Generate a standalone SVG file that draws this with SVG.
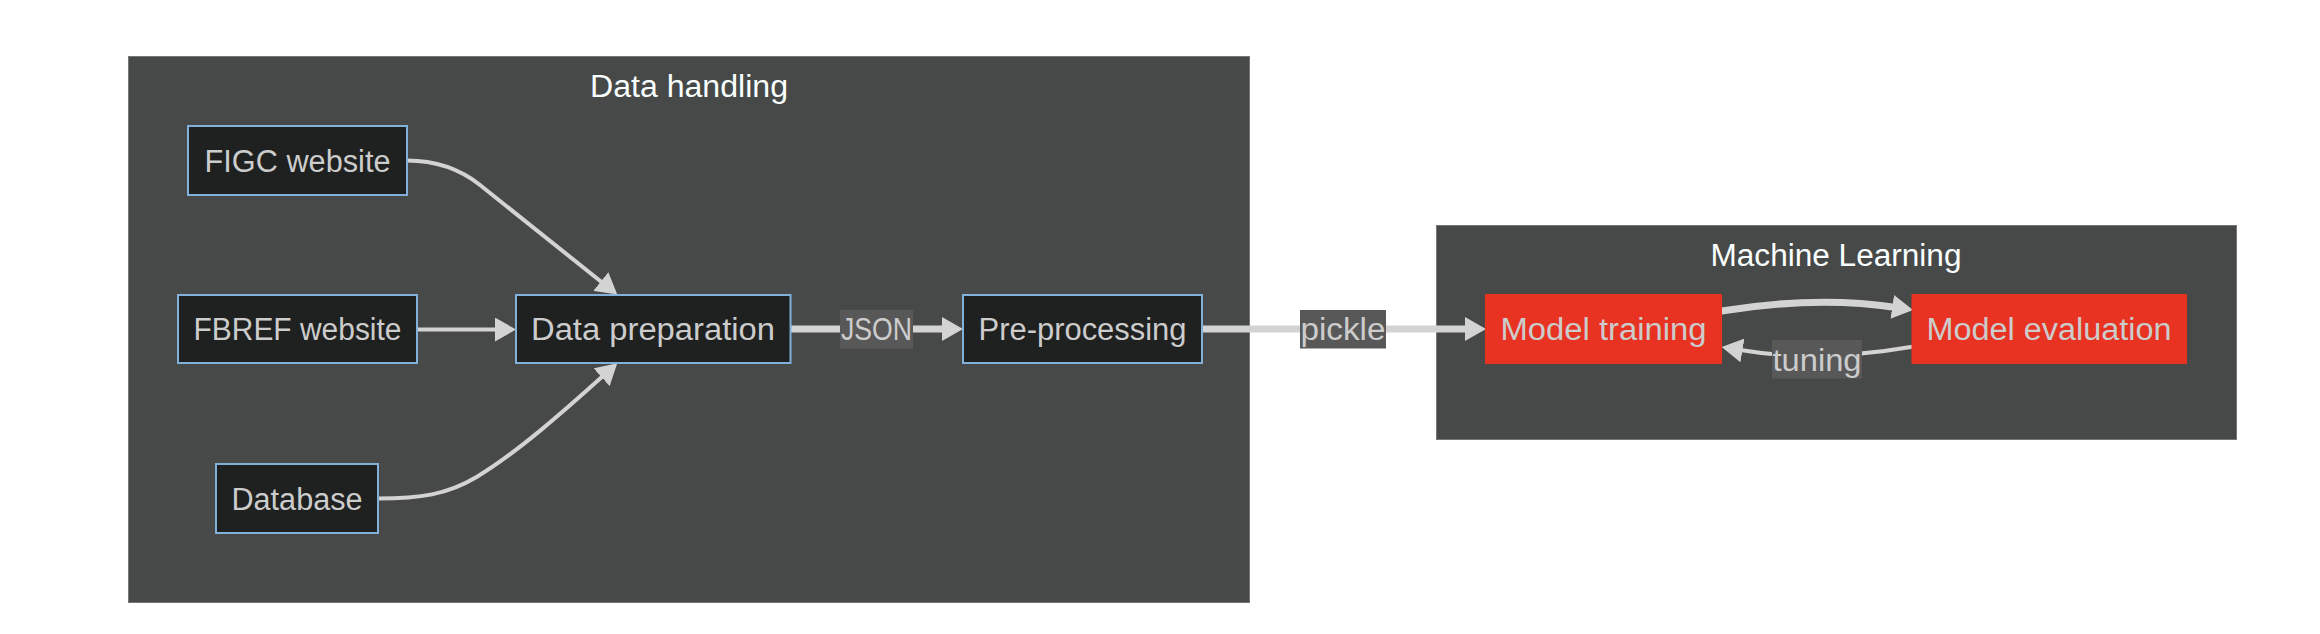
<svg xmlns="http://www.w3.org/2000/svg" width="2320" height="634" viewBox="0 0 2320 634">
<style>
  .cluster rect { fill: #474949; stroke: rgba(255,255,255,0.25); stroke-width: 2; }
  .ctitle { fill: #F9FFFE; font-family: "Liberation Sans", Arial, sans-serif; font-size: 31px; text-anchor: middle; }
  .node rect { fill: #1f2020; stroke: #81B1DB; stroke-width: 2; }
  .node.red rect { fill: #E83322; stroke: #E83322; }
  .node text, .elabel text { fill: #cccccc; font-family: "Liberation Sans", Arial, sans-serif; font-size: 31px; text-anchor: middle; }
  .edge { fill: none; stroke: #d3d3d3; stroke-width: 4; marker-end: url(#arrow); }
  .edge.thick { stroke-width: 7; }
  .elabel rect { fill: #585858; }
</style>
<defs>
  <marker id="arrow" markerUnits="userSpaceOnUse" viewBox="0 0 21 24" markerWidth="21" markerHeight="24" refX="4" refY="12" orient="auto">
    <path d="M0,0 L21,12 L0,24 z" fill="#d3d3d3"/>
  </marker>
</defs>
<rect width="2320" height="634" fill="#ffffff"/>

<g id="cluster-data-handling" class="cluster">
  <rect x="128" y="56" width="1122" height="547"/>
  <text class="ctitle" x="689" y="97" textLength="198" lengthAdjust="spacingAndGlyphs">Data handling</text>
</g>
<g id="cluster-machine-learning" class="cluster">
  <rect x="1436" y="225" width="801" height="215"/>
  <text class="ctitle" x="1836" y="266" textLength="251" lengthAdjust="spacingAndGlyphs">Machine Learning</text>
</g>

<g id="connectors">
  <path id="e-figc-prep" class="edge" d="M407,160.5 Q449.3,160.5 480,185 L604,284"/>
  <path id="e-fbref-prep" class="edge" d="M417,329.5 L499,329.5"/>
  <path id="e-db-prep" class="edge" d="M378,498.5 C420,498.5 447,494.7 477,476.7 C517,452.7 564.6,410.6 604.6,374.6"/>
  <path id="e-prep-pre" class="edge thick" d="M790.5,329 L946,329"/>
  <path id="e-pre-train" class="edge thick" d="M1202,329 L1469,329"/>
  <path id="e-train-eval" class="edge thick" d="M1721.5,311 Q1817,295.5 1896.2,307.5"/>
  <path id="e-eval-train" class="edge" d="M1912.5,346.7 Q1817,363 1738.5,349.8"/>
  <g class="elabel" id="lbl-json">
    <rect x="840" y="310" width="73" height="38.5"/>
    <text x="876.5" y="340" textLength="71" lengthAdjust="spacingAndGlyphs">JSON</text>
  </g>
  <g class="elabel" id="lbl-pickle">
    <rect x="1300" y="310" width="86" height="38.5"/>
    <text x="1343" y="340" textLength="85" lengthAdjust="spacingAndGlyphs">pickle</text>
  </g>
  <g class="elabel" id="lbl-tuning">
    <rect x="1772" y="340" width="90" height="38.5"/>
    <text x="1817" y="370.5" textLength="89" lengthAdjust="spacingAndGlyphs">tuning</text>
  </g>
</g>

<g id="node-figc" class="node">
  <rect x="188" y="126" width="219" height="69"/>
  <text x="297.5" y="171.5" textLength="186" lengthAdjust="spacingAndGlyphs">FIGC website</text>
</g>
<g id="node-fbref" class="node">
  <rect x="178" y="295" width="239" height="68"/>
  <text x="297.5" y="340" textLength="208" lengthAdjust="spacingAndGlyphs">FBREF website</text>
</g>
<g id="node-database" class="node">
  <rect x="216" y="464" width="162" height="69"/>
  <text x="297" y="509.5" textLength="131" lengthAdjust="spacingAndGlyphs">Database</text>
</g>
<g id="node-data-preparation" class="node">
  <rect x="516" y="295" width="274.5" height="68"/>
  <text x="653" y="340" textLength="244" lengthAdjust="spacingAndGlyphs">Data preparation</text>
</g>
<g id="node-pre-processing" class="node">
  <rect x="963" y="295" width="239" height="68"/>
  <text x="1082.5" y="340" textLength="208" lengthAdjust="spacingAndGlyphs">Pre-processing</text>
</g>
<g id="node-model-training" class="node red">
  <rect x="1486" y="295" width="235" height="68"/>
  <text x="1603.5" y="340" textLength="206" lengthAdjust="spacingAndGlyphs">Model training</text>
</g>
<g id="node-model-evaluation" class="node red">
  <rect x="1912.5" y="295" width="273.5" height="68"/>
  <text x="2049" y="340" textLength="245" lengthAdjust="spacingAndGlyphs">Model evaluation</text>
</g>
</svg>
